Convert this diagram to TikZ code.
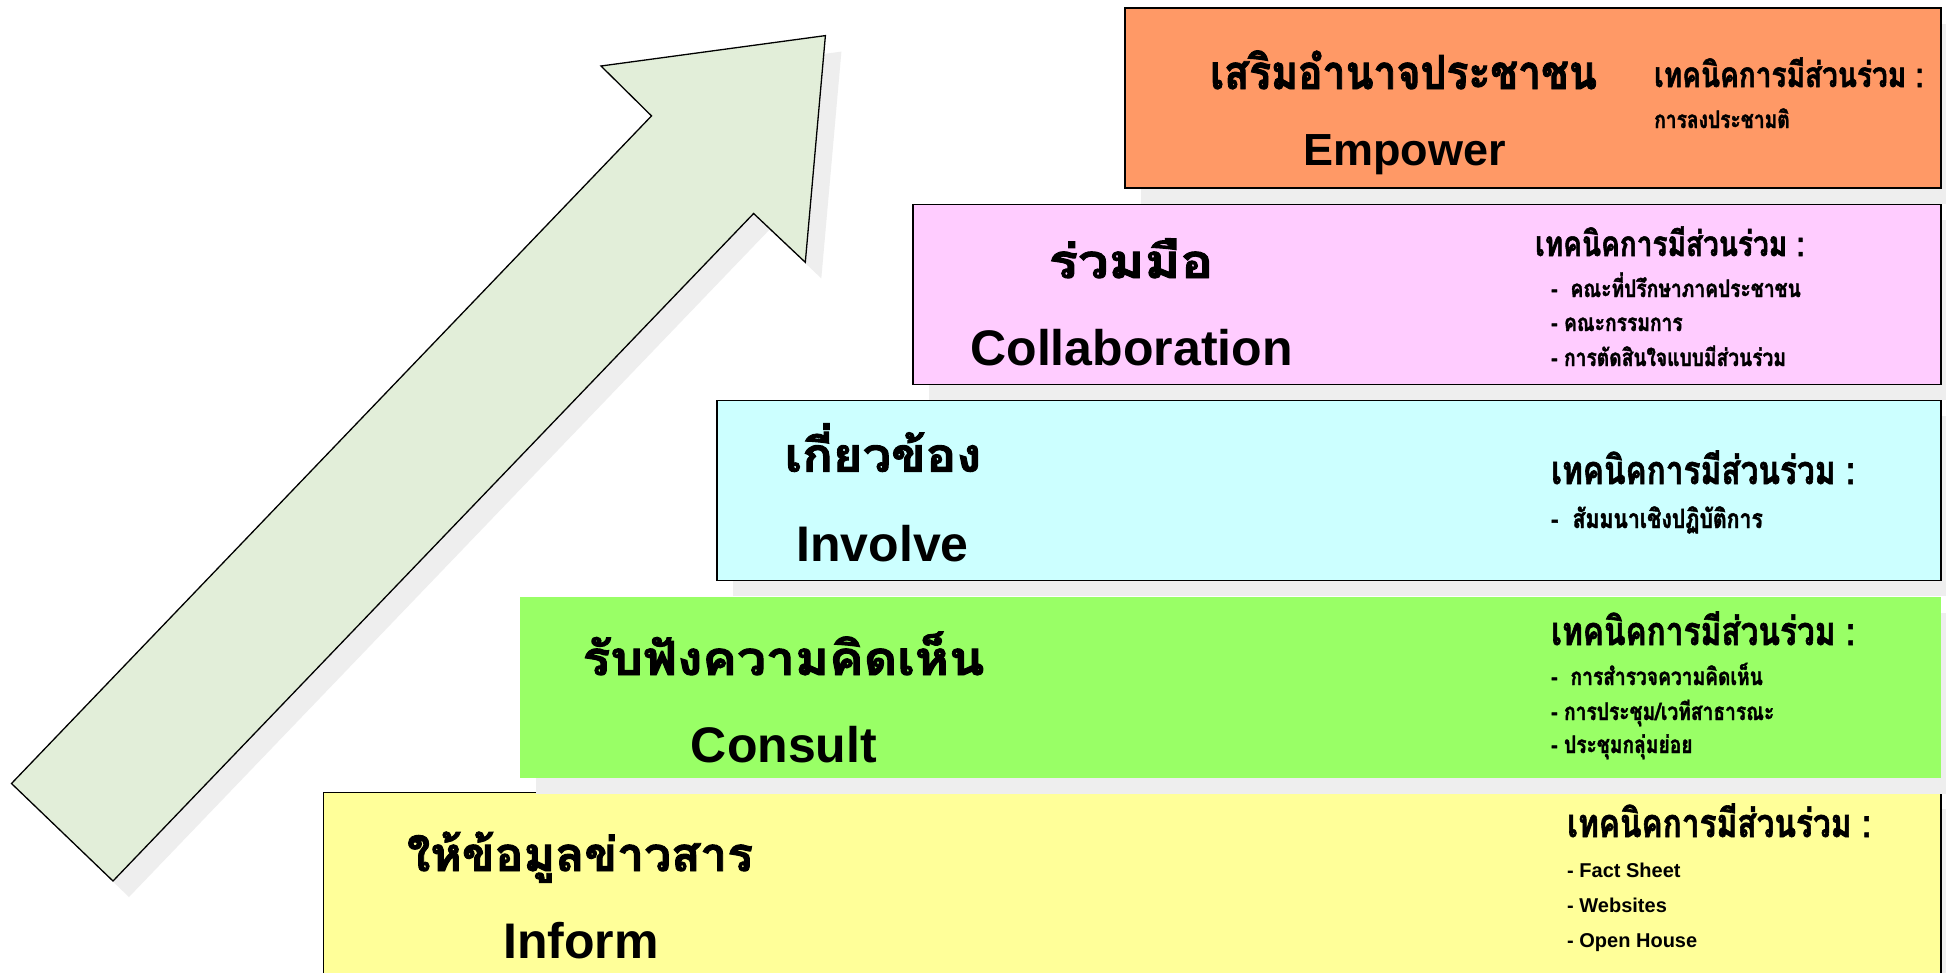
\documentclass[tikz,border=0pt]{standalone}
\usepackage{graphicx}
\usepackage{fontspec}
\setmainfont{Liberation Sans}
\newfontfamily\thaifont[Script=Thai,BoldFeatures={FakeBold=2}]{Loma}
\newfontfamily\thaicond[Script=Thai,FakeStretch=0.8,BoldFeatures={FakeBold=1.5}]{Loma}
\usetikzlibrary{shadows}
\definecolor{cEmp}{HTML}{FF9966}
\definecolor{cCol}{HTML}{FFCCFF}
\definecolor{cInv}{HTML}{CCFFFF}
\definecolor{cCon}{HTML}{99FF66}
\definecolor{cInf}{HTML}{FFFF99}
\definecolor{cArr}{HTML}{E2EED9}
\definecolor{cShd}{HTML}{EEEEEE}
\newcommand{\xsc}[2]{\scalebox{#1}[1]{#2}}
\tikzset{
  stepbox/.style={rectangle, anchor=north west, inner sep=0pt, draw=black, line width=1.6pt,
     drop shadow={shadow xshift=16pt, shadow yshift=-16pt, fill=cShd, opacity=1}},
  thtitle/.style={anchor=base, inner sep=0pt, font=\thaifont\bfseries\fontsize{47}{52}\selectfont},
  entitle/.style={anchor=base, inner sep=0pt, font=\bfseries\fontsize{50}{56}\selectfont},
  thhead/.style={anchor=base west, inner sep=0pt, font=\thaicond\bfseries\fontsize{35}{40}\selectfont},
  thheadl/.style={anchor=base west, inner sep=0pt, font=\thaicond\bfseries\fontsize{39.5}{44}\selectfont},
  thitem/.style={anchor=base west, inner sep=0pt, font=\thaicond\bfseries\fontsize{24}{28}\selectfont},
  enitem/.style={anchor=base west, inner sep=0pt, font=\bfseries\fontsize{20}{24}\selectfont},
}
\begin{document}
\begin{tikzpicture}[x=1pt,y=-1pt]
\useasboundingbox (0,0) rectangle (1946,972);
\clip (0,0) rectangle (1946,972);
\fill[white] (0,0) rectangle (1946,972);
% arrow
\coordinate (A) at (11.5,783.5);
\coordinate (B) at (113,881);
\coordinate (C) at (753.6,213.5);
\coordinate (D) at (805.3,262.3);
\coordinate (E) at (825.4,35.6);
\coordinate (F) at (601,66);
\coordinate (G) at (651.5,115.9);
\fill[cShd] ([xshift=16pt,yshift=-16pt]A) -- ([xshift=16pt,yshift=-16pt]B) -- ([xshift=16pt,yshift=-16pt]C)
  -- ([xshift=16pt,yshift=-16pt]D) -- ([xshift=16pt,yshift=-16pt]E) -- ([xshift=16pt,yshift=-16pt]F)
  -- ([xshift=16pt,yshift=-16pt]G) -- cycle;
\draw[fill=cArr, line width=1.3pt, line join=miter] (A) -- (B) -- (C) -- (D) -- (E) -- (F) -- (G) -- cycle;
% boxes, bottom to top
\node[stepbox, fill=cInf, minimum width=1617.3pt, minimum height=220pt] (inform) at (322.7,791.8) {};
\node[stepbox, fill=cCon, draw=none, minimum width=1421.3pt, minimum height=181.3pt] (consult) at (518.7,595.7) {};
\node[stepbox, fill=cInv, minimum width=1224.3pt, minimum height=180pt] (involve) at (716,399.6) {};
\node[stepbox, fill=cCol, minimum width=1028pt, minimum height=180pt] (collab) at (912,203.5) {};
\node[stepbox, fill=cEmp, minimum width=816pt, minimum height=180pt] (empower) at (1124,7.4) {};
% Empower
\node[thtitle] (t5a) at (1403.5,89) {\xsc{0.87}{เสริมอำนาจประชาชน}};
\node[entitle, font=\bfseries\fontsize{45}{50}\selectfont] (t5b) at (1404.5,165) {Empower};
\node[thhead] (h5) at (1654,87) {เทคนิคการมีส่วนร่วม :};
\node[thitem] (i51) at (1654,128) {การลงประชามติ};
% Collaboration
\node[thtitle] (t4a) at (1131,278) {\xsc{1.16}{ร่วมมือ}};
\node[entitle] (t4b) at (1131.5,365) {Collaboration};
\node[thhead] (h4) at (1535,256) {เทคนิคการมีส่วนร่วม :};
\node[thitem] (i41) at (1551,297) {-\ \ คณะที่ปรึกษาภาคประชาชน};
\node[thitem] (i42) at (1551,331) {- คณะกรรมการ};
\node[thitem] (i43) at (1551,366) {- การตัดสินใจแบบมีส่วนร่วม};
% Involve
\node[thtitle] (t3a) at (883,471.6) {\xsc{1.08}{เกี่ยวข้อง}};
\node[entitle] (t3b) at (882.5,561) {Involve};
\node[thheadl] (h3) at (1551,484) {เทคนิคการมีส่วนร่วม :};
\node[thitem, font=\thaicond\bfseries\fontsize{26.5}{30}\selectfont] (i31) at (1551,528) {-\ \ สัมมนาเชิงปฏิบัติการ};
% Consult
\node[thtitle] (t2a) at (783.5,675) {\xsc{1.1}{รับฟังความคิดเห็น}};
\node[entitle] (t2b) at (784,762) {Consult};
\node[thheadl] (h2) at (1551,645) {เทคนิคการมีส่วนร่วม :};
\node[thitem] (i21) at (1551,685) {-\ \ การสำรวจความคิดเห็น};
\node[thitem] (i22) at (1551,720) {- การประชุม/เวทีสาธารณะ};
\node[thitem] (i23) at (1551,753) {- ประชุมกลุ่มย่อย};
% Inform
\node[thtitle] (t1a) at (580,871) {\xsc{1.02}{ให้ข้อมูลข่าวสาร}};
\node[entitle] (t1b) at (581,958) {Inform};
\node[thheadl] (h1) at (1567,837) {เทคนิคการมีส่วนร่วม :};
\node[enitem] (i11) at (1567,877) {- Fact Sheet};
\node[enitem] (i12) at (1567,912) {- Websites};
\node[enitem] (i13) at (1567,947) {- Open House};
\end{tikzpicture}
\end{document}
